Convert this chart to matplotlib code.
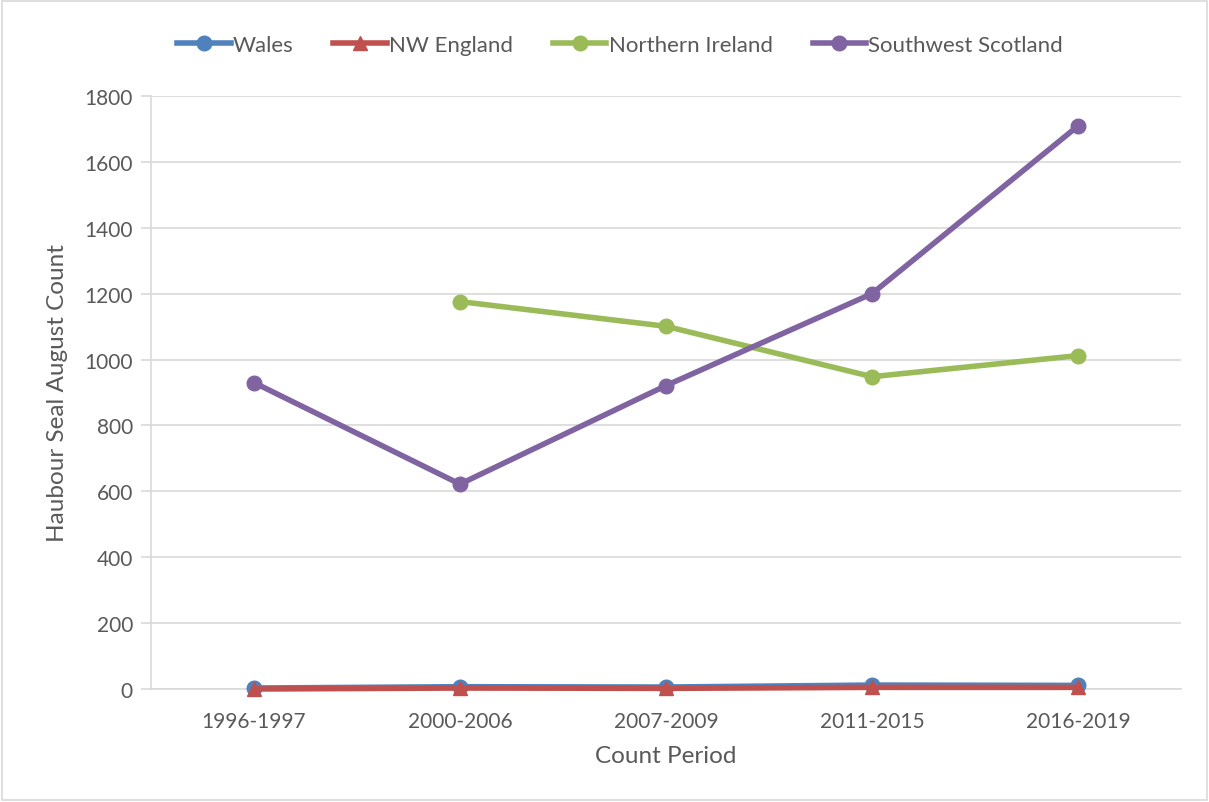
import matplotlib
matplotlib.use("Agg")
import matplotlib.pyplot as plt
from matplotlib.patches import Rectangle
import numpy as np

periods = ["1996-1997", "2000-2006", "2007-2009", "2011-2015", "2016-2019"]
wales = [3, 7, 6, 12, 11]
nw_england = [0, 3, 2, 5, 5]
northern_ireland = [np.nan, 1176, 1101, 948, 1012]
sw_scotland = [930, 622, 921, 1200, 1709]

TEXT = "#595959"
GRID = "#d9d9d9"

plt.rcParams["font.family"] = ["Lato", "DejaVu Sans"]

fig = plt.figure(figsize=(12.09, 8.03), dpi=100)
ax = fig.add_axes([0.1249, 0.1407, 0.8519, 0.7385])

x = np.arange(len(periods))
series = [
    ("Wales", wales, "#4f81bd", "o"),
    ("NW England", nw_england, "#c0504d", "^"),
    ("Northern Ireland", northern_ireland, "#9bbb59", "o"),
    ("Southwest Scotland", sw_scotland, "#8064a2", "o"),
]
for name, values, color, marker in series:
    ax.plot(x, values, color=color, lw=4, marker=marker, ms=10.5,
            label=name, zorder=3, clip_on=False)

ax.set_xlim(-0.5, len(periods) - 0.5)
ax.set_ylim(0, 1800)
ax.set_yticks(range(0, 1801, 200))
ax.set_xticks(x)
ax.set_xticklabels(periods)
ax.grid(True, axis="y", color=GRID, lw=1.2, zorder=0)
for side in ["top", "right"]:
    ax.spines[side].set_visible(False)
ax.spines["left"].set_color(GRID)
ax.spines["bottom"].set_color(GRID)
ax.spines["left"].set_linewidth(1.2)
ax.spines["bottom"].set_linewidth(1.2)
ax.tick_params(axis="y", colors=TEXT, labelsize=15, length=7, width=1.2,
               color=GRID, pad=6)
ax.tick_params(axis="x", colors=TEXT, labelsize=15, length=0, pad=16)
ax.set_xlabel("Count Period", color=TEXT, fontsize=17.5, labelpad=10)
ax.set_ylabel("Haubour Seal August Count", color=TEXT, fontsize=17.5,
              labelpad=12)

leg = fig.legend(loc="upper left", bbox_to_anchor=(0.13, 0.98), ncol=4,
                 frameon=False, fontsize=16, handlelength=2.4,
                 columnspacing=1.8, handletextpad=0.1, labelcolor=TEXT)

fig.patches.append(Rectangle((0.002, 0.002), 0.996, 0.996,
                             transform=fig.transFigure, fill=False,
                             edgecolor=GRID, lw=1.2))

fig.savefig("out.png", dpi=100)
